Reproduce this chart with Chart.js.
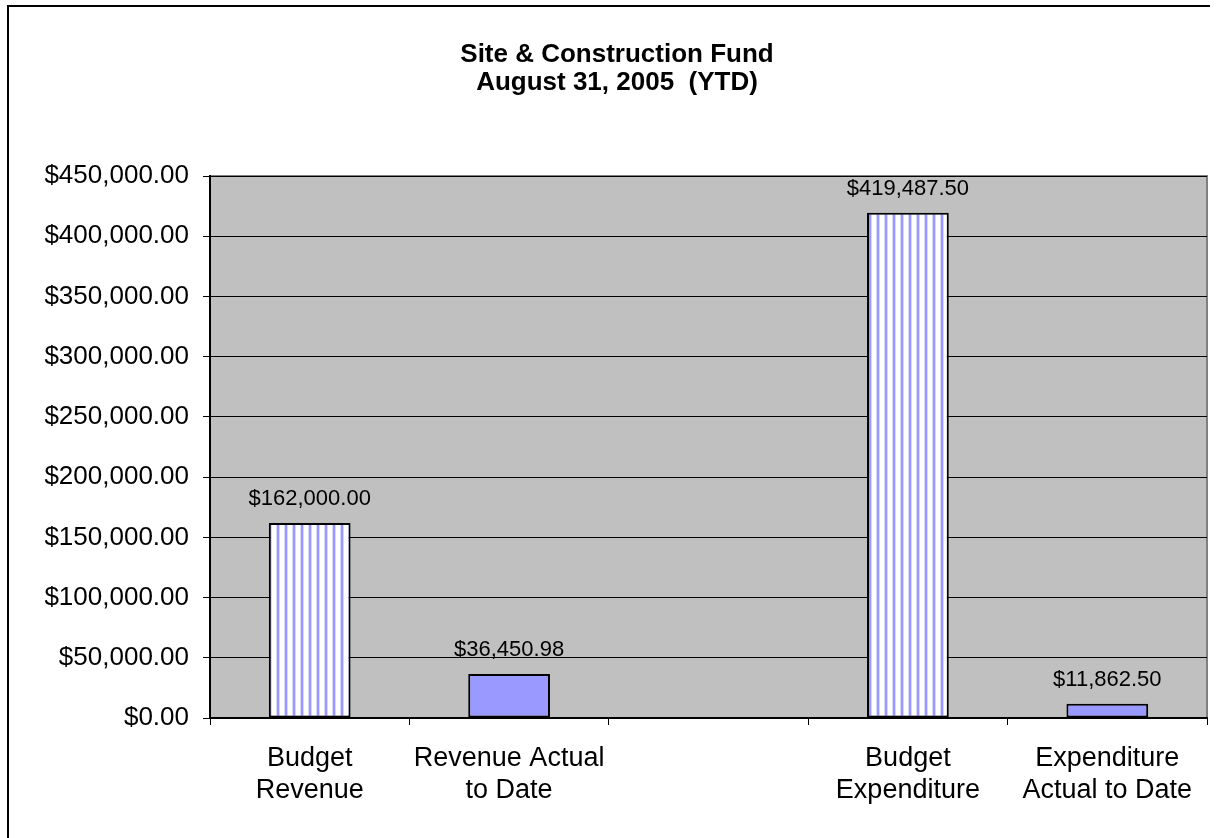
<!DOCTYPE html>
<html>
<head>
<meta charset="utf-8">
<script src="https://cdn.jsdelivr.net/npm/chart.js@4.4.1/dist/chart.umd.min.js"></script>
<style>
  html, body { margin: 0; padding: 0; background: #ffffff; }
  #wrap { width: 1220px; height: 838px; position: relative; }
</style>
</head>
<body>
<div id="wrap"><canvas id="c" width="1220" height="838"></canvas></div>
<script>
// ---- data ----
const categories = [
  ["Budget", "Revenue"],
  ["Revenue Actual", "to Date"],
  "",
  ["Budget", "Expenditure"],
  ["Expenditure", "Actual to Date"]
];
const values = [162000.00, 36450.98, null, 419487.50, 11862.50];
const patterned = [true, false, false, true, false];
const titleLines = ["Site & Construction Fund", "August 31, 2005  (YTD)"];
const yMin = 0, yMax = 450000, yStep = 50000;

// ---- helpers ----
function money(v) {
  return "$" + Number(v).toLocaleString("en-US", { minimumFractionDigits: 2, maximumFractionDigits: 2 });
}
function stripePattern(ctx) {
  const pc = document.createElement("canvas");
  pc.width = 8; pc.height = 8;
  const p = pc.getContext("2d");
  p.fillStyle = "#ffffff"; p.fillRect(0, 0, 8, 8);
  p.fillStyle = "#d6d6ff"; p.fillRect(4, 0, 1, 8); p.fillRect(7, 0, 1, 8);
  p.fillStyle = "#9999ff"; p.fillRect(5, 0, 2, 8);
  return ctx.createPattern(pc, "repeat");
}

const canvas = document.getElementById("c");
const ctx = canvas.getContext("2d");
const stripes = stripePattern(ctx);
const FONT = "'Liberation Sans', Arial, sans-serif";

const framePlugin = {
  id: "frame",
  beforeDraw(chart) {
    const c = chart.ctx;
    c.save();
    c.fillStyle = "#ffffff";
    c.fillRect(0, 0, chart.width, chart.height);
    c.strokeStyle = "#000000";
    c.lineWidth = 2;
    c.beginPath();
    c.moveTo(8, 838); c.lineTo(8, 6); c.lineTo(1210, 6);
    c.stroke();
    // title
    c.fillStyle = "#000000";
    c.font = "bold 26px " + FONT;
    c.textAlign = "center";
    c.textBaseline = "alphabetic";
    c.fillText(titleLines[0], 617, 62);
    c.fillText(titleLines[1], 617, 90);
    c.restore();
  }
};
const plotBg = {
  id: "plotBg",
  beforeDraw(chart) {
    const a = chart.chartArea, c = chart.ctx;
    c.save();
    c.fillStyle = "#c0c0c0";
    c.fillRect(a.left, a.top, a.right - a.left, a.bottom - a.top);
    c.strokeStyle = "#808080";
    c.lineWidth = 2;
    c.beginPath();
    c.moveTo(a.left, a.top); c.lineTo(a.right, a.top); c.lineTo(a.right, a.bottom);
    c.stroke();
    c.restore();
  }
};
const valueLabels = {
  id: "valueLabels",
  afterDatasetsDraw(chart) {
    const c = chart.ctx;
    const meta = chart.getDatasetMeta(0);
    c.save();
    c.fillStyle = "#000000";
    c.font = "22px " + FONT;
    c.textAlign = "center";
    c.textBaseline = "alphabetic";
    meta.data.forEach((el, i) => {
      const v = values[i];
      if (v === null || v === undefined) return;
      c.fillText(money(v), el.x, el.y - 18);
    });
    c.restore();
  }
};

new Chart(ctx, {
  type: "bar",
  data: {
    labels: categories,
    datasets: [{
      data: values,
      backgroundColor: patterned.map(p => p ? stripes : "#9999ff"),
      borderColor: "#000000",
      borderWidth: 2,
      borderSkipped: false,
      barPercentage: 0.41,
      categoryPercentage: 1.0
    }]
  },
  options: {
    responsive: false,
    animation: false,
    devicePixelRatio: 1,
    layout: { padding: { top: 176, right: 13, left: 0, bottom: 0 } },
    plugins: {
      legend: { display: false },
      tooltip: { enabled: false },
      title: { display: false }
    },
    scales: {
      x: {
        offset: true,
        afterFit(scale) { scale.height = 120; },
        grid: {
          display: true,
          drawOnChartArea: false,
          drawTicks: true,
          tickLength: 7,
          color: "#000000",
          lineWidth: 1,
          offset: true
        },
        border: { display: true, color: "#000000", width: 2 },
        ticks: {
          color: "#000000",
          font: { family: FONT, size: 27, lineHeight: 32 / 27 },
          padding: 18,
          maxRotation: 0,
          autoSkip: false
        }
      },
      y: {
        min: yMin,
        max: yMax,
        afterFit(scale) { scale.width = 210; },
        grid: {
          color: "#000000",
          lineWidth: 1,
          tickLength: 7,
          drawTicks: true
        },
        border: { display: true, color: "#000000", width: 2 },
        ticks: {
          stepSize: yStep,
          color: "#000000",
          font: { family: FONT, size: 26 },
          padding: 14,
          callback: (v) => money(v)
        }
      }
    }
  },
  plugins: [framePlugin, plotBg, valueLabels]
});
</script>
</body>
</html>
